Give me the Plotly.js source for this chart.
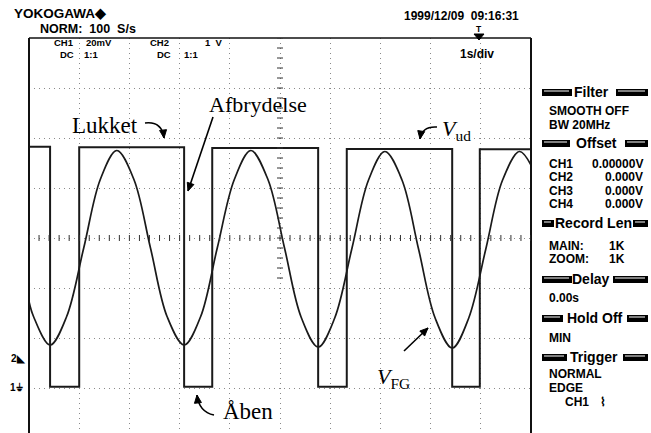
<!DOCTYPE html>
<html>
<head>
<meta charset="utf-8">
<script src="https://cdn.plot.ly/plotly-3.0.1.min.js"></script>
<style>html,body{margin:0;padding:0;background:#fff;}#chart{width:651px;height:433px;}</style>
</head>
<body>
<div id="chart"></div>
<script>
// ---- data (time in s, 1 s/div) ----
// CH1 (20 mV/div): square wave from the switch, "hv" steps
const ch1Time = [-5.00, -4.58, -4.00, -1.91, -1.35, 0.76, 1.33, 3.43, 3.98, 5.00];
const ch1mV   = [96.5, 0.5, 96.3, 0.5, 96.0, 0.5, 95.6, 0.5, 95.5, 95.5];
// CH2 (1 V/div): function generator sine
const ch2Time = [-5.00, -4.91, -4.58, -4.25, -3.91, -3.58, -3.25, -2.91, -2.58, -2.25,
                 -1.91, -1.58, -1.25, -0.91, -0.58, -0.24, 0.09, 0.42, 0.76, 1.09,
                 1.43, 1.76, 2.09, 2.43, 2.76, 3.09, 3.43, 3.76, 4.10, 4.43, 4.77, 5.00];
const ch2V    = [1.13, 0.83, 0.26, 0.83, 2.20, 3.57, 4.15, 3.57, 2.20, 0.83,
                 0.26, 0.83, 2.20, 3.57, 4.15, 3.57, 2.20, 0.82, 0.22, 0.80,
                 2.18, 3.55, 4.13, 3.56, 2.18, 0.80, 0.20, 0.80, 2.18, 3.55, 4.13, 3.86];

// ---- screen texts ----
const panelHeaders = ['Filter', 'Offset', 'Record Len', 'Delay', 'Hold Off', 'Trigger'];
const panelLeft  = ['SMOOTH OFF', 'BW 20MHz', 'CH1', 'CH2', 'CH3', 'CH4', 'MAIN:', 'ZOOM:', '0.00s', 'MIN', 'NORMAL', 'EDGE', 'CH1'];
const panelRight = ['0.00000V', '0.000V', '0.000V', '0.000V', '1K', '1K'];

// ---- geometry helpers (pixel -> paper / data) ----
const L = 29, R = 531, T = 38, B = 433;
const px = v => (v - L) / (R - L);
const py = v => (B - v) / (B - T);
const tX = v => (v - 280) / 50.2;      // pixel x -> seconds
const mY = v => 0.4 * (388 - v);       // pixel y -> CH1 mV

const scopeFont = {family: 'Liberation Sans, Arial, sans-serif', size: 12, color: '#000', weight: 'bold'};
const serif = {family: 'Liberation Serif, Times New Roman, serif', size: 22, color: '#000'};
const f = (size) => Object.assign({}, scopeFont, {size: size});

const traces = [
  {x: ch1Time, y: ch1mV, type: 'scatter', mode: 'lines', line: {shape: 'hv', color: '#1a1a1a', width: 2}, hoverinfo: 'skip', yaxis: 'y'},
  {x: ch2Time, y: ch2V, type: 'scatter', mode: 'lines', line: {shape: 'spline', smoothing: 1, color: '#1a1a1a', width: 1.7}, hoverinfo: 'skip', yaxis: 'y2'}
];

const shapes = [];
// frame
shapes.push({type: 'line', xref: 'paper', yref: 'paper', x0: 0, x1: 0, y0: -0.02, y1: 1, line: {color: '#111', width: 2}});
shapes.push({type: 'line', xref: 'paper', yref: 'paper', x0: 1, x1: 1, y0: -0.02, y1: 1, line: {color: '#111', width: 2}});
shapes.push({type: 'line', xref: 'paper', yref: 'paper', x0: 0, x1: 1, y0: 1, y1: 1, line: {color: '#111', width: 1.5}});
// centre graticule ticks (every 0.2 div)
for (let k = 0; k <= 50; k++) {
  const t = -5 + 0.2 * k;
  shapes.push({type: 'line', xref: 'x', yref: 'y', ysizemode: 'pixel', yanchor: 60, y0: -3, y1: 3, x0: t, x1: t, line: {color: '#333', width: 1}});
}
for (let k = -4; k <= 35; k++) {
  const v = 60 + 4 * k;
  shapes.push({type: 'line', xref: 'x', yref: 'y', xsizemode: 'pixel', xanchor: 0, x0: -3, x1: 3, y0: v, y1: v, line: {color: '#333', width: 1}});
}
// arrows (drawn in data space, given in screen pixels)
const P = p => `${tX(p[0])},${mY(p[1])}`;
function head(tip, from) {
  const dx = tip[0] - from[0], dy = tip[1] - from[1], n = Math.hypot(dx, dy);
  const ux = dx / n, uy = dy / n, len = 8, hw = 3.5;
  const bx = tip[0] - len * ux, by = tip[1] - len * uy;
  const a = [bx - hw * uy, by + hw * ux], b = [bx + hw * uy, by - hw * ux];
  shapes.push({type: 'path', xref: 'x', yref: 'y', fillcolor: '#000', line: {color: '#000', width: 1},
    path: `M ${P(tip)} L ${P(a)} L ${P(b)} Z`});
}
function curve(p0, c, p1) {
  shapes.push({type: 'path', xref: 'x', yref: 'y', line: {color: '#000', width: 1.6},
    path: `M ${P(p0)} Q ${P(c)} ${P(p1)}`});
  head(p1, c);
}
function straight(p0, p1) {
  shapes.push({type: 'path', xref: 'x', yref: 'y', line: {color: '#000', width: 1.6}, path: `M ${P(p0)} L ${P(p1)}`});
  head(p1, p0);
}
curve([145, 123], [162, 121], [164, 138]);
curve([437, 127], [422, 126], [420, 139]);
curve([214, 415], [199, 412], [197, 395]);
straight([213, 117], [188, 191]);
straight([404, 351], [428, 328]);

// right panel header bars
const headerY = [92, 143, 223, 279, 318, 357];
const headerBars = [[542, 572, 616, 648], [542, 570, 625, 648], [542, 554, 633, 648], [542, 572, 613, 648], [542, 563, 627, 648], [542, 567, 623, 648]];
const headerTx = [591, 596, 593, 591, 595, 594];
function bar(x0, x1, yc) {
  shapes.push({type: 'rect', xref: 'paper', yref: 'paper', x0: px(x0), x1: px(x1), y0: py(yc + 4), y1: py(yc - 3), fillcolor: '#000', line: {width: 0}});
  shapes.push({type: 'line', xref: 'paper', yref: 'paper', x0: px(x0 + 2), x1: px(x1 - 3), y0: py(yc - 1), y1: py(yc - 1), line: {color: '#fff', width: 1}});
}
headerY.forEach((y, i) => { const b = headerBars[i]; bar(b[0], b[1], y); bar(b[2], b[3], y); });
// trigger position marker triangle on top of the screen
shapes.push({type: 'path', xref: 'paper', yref: 'paper', fillcolor: '#000', line: {color: '#000', width: 1},
  path: `M ${px(474)},${py(34)} L ${px(484)},${py(34)} L ${px(479)},${py(40)} Z`});

const ann = [];
function txt(text, x, y, opts) {
  ann.push(Object.assign({text: text, x: px(x), y: py(y), xref: 'paper', yref: 'paper', showarrow: false, xanchor: 'left', yanchor: 'middle', font: scopeFont}, opts || {}));
}
// top texts
txt('YOKOGAWA◆', 12, 14, {font: f(13.5)});
txt('NORM:  100  S/s', 38, 29, {font: f(12.5)});
txt('CH1', 52, 43, {font: f(9.5)});
txt('20mV', 84, 43, {font: f(9.5)});
txt('DC', 58, 54, {font: f(9.5)});
txt('1:1', 82, 54, {font: f(9.5)});
txt('CH2', 148, 43, {font: f(9.5)});
txt('1  V', 203, 43, {font: f(9.5)});
txt('DC', 155, 54, {font: f(9.5)});
txt('1:1', 182, 54, {font: f(9.5)});
txt('1999/12/09  09:16:31', 402, 16);
txt('T', 479, 29, {xanchor: 'center', font: f(8.5)});
txt('1s/div', 458, 54);
// left markers
txt('2◣', 9, 358, {font: f(10)});
txt('1⏚', 8, 387, {font: f(10)});
// right panel
panelHeaders.forEach((h, i) => txt(h, headerTx[i], headerY[i], {xanchor: 'center', font: f(14)}));
const leftY = [111, 125, 164, 177, 191, 204, 246, 259, 298, 338, 374, 388, 402];
const leftX = [547, 547, 547, 547, 547, 547, 547, 547, 547, 547, 547, 547, 563];
panelLeft.forEach((s, i) => txt(s, leftX[i], leftY[i]));
const rightY = [164, 177, 191, 204, 246, 259];
const rightX = [645, 645, 645, 645, 627, 627];
panelRight.forEach((s, i) => txt(s, rightX[i], rightY[i], {xanchor: 'right'}));
txt('⌇', 598, 402);
// Danish annotations
txt('Lukket', 105, 126, {xanchor: 'center', font: Object.assign({}, serif, {size: 23})});
txt('Afbrydelse', 258, 104, {xanchor: 'center', font: serif});
txt('<i>V</i><sub>ud</sub>', 440, 130, {font: serif});
txt('<i>V</i><sub>FG</sub>', 375, 378, {font: serif});
txt('Åben', 248, 411, {xanchor: 'center', font: Object.assign({}, serif, {size: 23})});

const gridStyle = {showgrid: true, gridcolor: '#8a8a8a', gridwidth: 1, griddash: '1px,4px', zeroline: false, showticklabels: false, ticks: '', showline: false};
const layout = {
  width: 651, height: 433,
  margin: {l: L, r: 651 - R, t: T, b: 0},
  paper_bgcolor: '#fff', plot_bgcolor: '#fff',
  showlegend: false,
  xaxis: Object.assign({range: [-5, 5], dtick: 1, tick0: 0}, gridStyle),
  yaxis: Object.assign({range: [-18, 140], dtick: 20, tick0: 0}, gridStyle),
  yaxis2: {range: [-1.5, 6.4], overlaying: 'y', visible: false, showgrid: false},
  shapes: shapes,
  annotations: ann
};
Plotly.newPlot('chart', traces, layout, {staticPlot: true, displayModeBar: false});
</script>
</body>
</html>
